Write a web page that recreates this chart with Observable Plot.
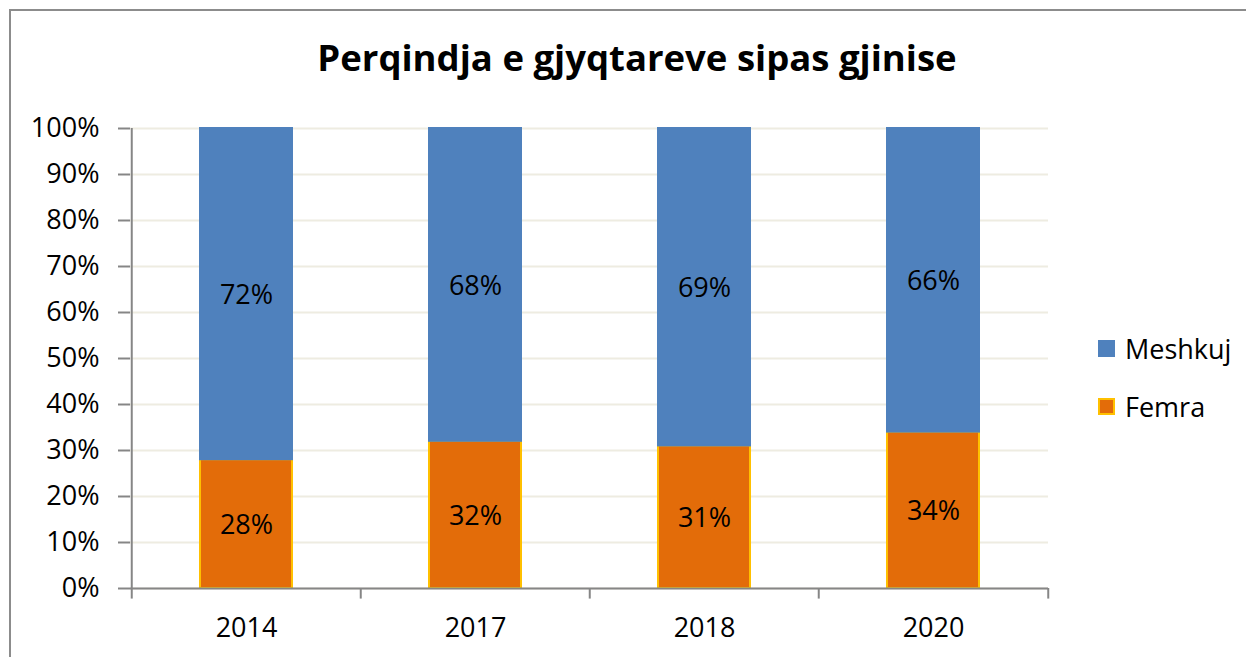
<!DOCTYPE html>
<html>
<head>
<meta charset="utf-8">
<script src="https://cdn.jsdelivr.net/npm/d3@7"></script>
<script src="https://cdn.jsdelivr.net/npm/@observablehq/plot@0.6"></script>
<style>
  html, body { margin: 0; padding: 0; background: #fff; }
  #wrap { position: relative; width: 1246px; height: 657px; overflow: hidden; background: #fff; font-family: "Open Sans", sans-serif; }
  #frame { position: absolute; left: 9px; top: 9px; width: 1300px; height: 700px; border: 2px solid #8c8c8c; box-sizing: border-box; }
  #title { position: absolute; left: 0; width: 1274px; top: 32px; text-align: center; font-weight: bold; font-size: 36.5px; color: #000; white-space: nowrap; }
  #plot { position: absolute; left: 0; top: 0; }
  .leg { position: absolute; left: 1098px; font-size: 27px; color: #000; display: flex; align-items: center; }
  .sw { width: 17px; height: 17px; box-sizing: border-box; margin-right: 10px; }
</style>
</head>
<body>
<div id="wrap">
  <div id="frame"></div>
  <div id="title">Perqindja e gjyqtareve sipas gjinise</div>
  <div id="plot"></div>
  <div class="leg" id="leg0" style="top:330px"></div>
  <div class="leg" id="leg1" style="top:388px"></div>
</div>
<script>
const years = ["2014", "2017", "2018", "2020"];
const series = ["Meshkuj", "Femra"];
const femra = [28, 32, 31, 34];
const meshkuj = [72, 68, 69, 66];
const yTicks = [0, 10, 20, 30, 40, 50, 60, 70, 80, 90, 100];
const colors = { Meshkuj: "#4F81BD", Femra: "#E36C09" };
const strokes = { Meshkuj: "#4F81BD", Femra: "#FFC000" };

const data = [];
years.forEach((y, i) => {
  data.push({ year: y, series: "Femra", value: femra[i] });
  data.push({ year: y, series: "Meshkuj", value: meshkuj[i] });
});

const W = 1246, H = 657, mL = 130, mR = 198, mT = 128, mB = 69;
const step = (W - mL - mR) / years.length;

const chart = Plot.plot({
  width: W, height: H,
  marginLeft: mL, marginRight: mR, marginTop: mT, marginBottom: mB,
  style: { fontFamily: "Open Sans, sans-serif", fontSize: "27px", color: "#000", background: "transparent" },
  x: { domain: years, paddingInner: 0.6, paddingOuter: 0.3, label: null },
  y: { domain: [0, 100], label: null },
  marks: [
    Plot.gridY(yTicks, { stroke: "#EEECE1", strokeWidth: 2, strokeOpacity: 1 }),
    Plot.barY(data, Plot.stackY({
      x: "year", y: "value", z: "series", order: ["Femra", "Meshkuj"],
      fill: d => colors[d.series], stroke: d => strokes[d.series], strokeWidth: 2
    })),
    Plot.text(data, Plot.stackY({
      x: "year", y: "value", z: "series", order: ["Femra", "Meshkuj"],
      text: d => d.value + "%", fill: "#000", fontSize: 27, dy: 1
    })),
    Plot.ruleY([0], { stroke: "#868686", strokeWidth: 2 }),
    Plot.ruleX([years[0]], { y1: 0, y2: 100, dx: -step / 2, stroke: "#868686", strokeWidth: 2 }),
    Plot.ruleX(years, { y1: 0, y2: -2.3, dx: -step / 2, stroke: "#868686", strokeWidth: 2 }),
    Plot.ruleX([years[years.length - 1]], { y1: 0, y2: -2.3, dx: step / 2, stroke: "#868686", strokeWidth: 2 }),
    Plot.axisY(yTicks, { tickFormat: d => d + "%", tickSize: 12, tickPadding: 19, stroke: "#868686", strokeWidth: 2, strokeOpacity: 1, fontSize: 27, fill: "#000" }),
    Plot.axisX({ tickSize: 0, tickPadding: 29, fontSize: 27, fill: "#000" })
  ]
});
document.getElementById("plot").appendChild(chart);

[0, 1].forEach(i => {
  const s = series[i];
  const el = document.getElementById("leg" + i);
  const sw = document.createElement("div");
  sw.className = "sw";
  sw.style.background = colors[s];
  sw.style.border = s === "Femra" ? "2px solid #FFC000" : "none";
  el.appendChild(sw);
  const t = document.createElement("span");
  t.textContent = s;
  el.appendChild(t);
});
</script>
</body>
</html>
